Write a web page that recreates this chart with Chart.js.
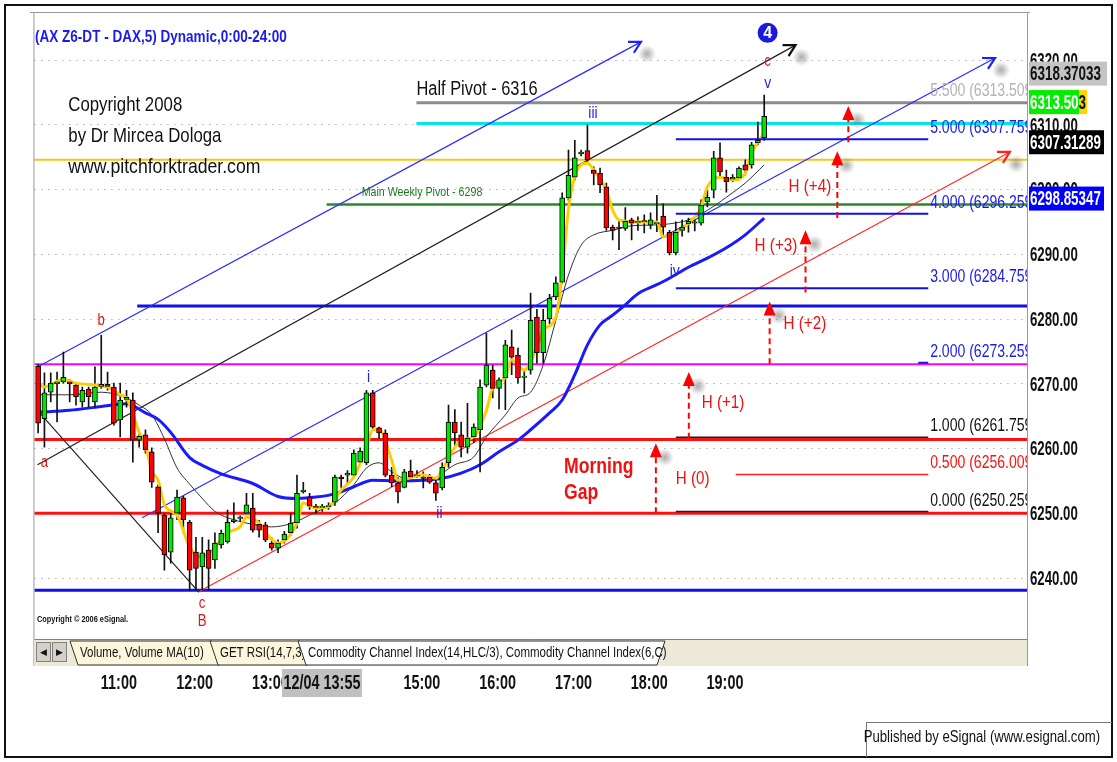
<!DOCTYPE html>
<html>
<head>
<meta charset="utf-8">
<script src="https://cdn.jsdelivr.net/npm/chart.js@4.4.0/dist/chart.umd.min.js"></script>
<style>
  html, body { margin: 0; padding: 0; background: #fff; }
  canvas { display: block; }
</style>
</head>
<body>
<canvas id="dax" width="1117" height="762"></canvas>
<script>
(function () {
  'use strict';

  // ---- data (5 min bars from 10:00) ----
  const START_MIN = 600;
  const BAR_MIN = 5;
  const opens = [
    6272.7,6264.6,6268.7,6270.0,6270.3,6270.3,6269.8,6267.2,6269.2,6267.2,
    6269.6,6269.9,6269.5,6264.4,6267.6,6267.5,6261.3,6262.1,6259.5,6254.1,
    6249.7,6244.0,6250.0,6252.4,6248.6,6244.0,6241.7,6244.3,6242.8,6245.1,
    6245.6,6248.7,6249.2,6250.0,6250.8,6248.3,6248.2,6245.4,6244.6,6245.9,
    6247.0,6248.5,6253.3,6252.5,6251.1,6250.9,6251.0,6251.7,6255.6,6255.9,
    6255.9,6257.9,6257.8,6268.6,6263.2,6262.4,6255.9,6254.7,6254.0,6256.5,
    6255.8,6255.6,6255.6,6254.7,6253.9,6257.8,6264.1,6262.1,6260.2,6261.8,
    6262.9,6269.8,6272.1,6269.3,6270.9,6275.7,6274.4,6271.0,6272.1,6280.3,
    6274.8,6280.0,6283.4,6285.7,6298.7,6301.9,6305.5,6306.0,6303.0,6302.5,
    6300.4,6294.2,6294.2,6294.0,6295.3,6294.9,6295.0,6294.5,6294.7,6295.9,
    6293.4,6290.2,6293.7,6294.7,6294.8,6294.8,6298.1,6299.9,6304.9,6301.9,
    6301.6,6301.8,6303.8,6303.8,6307.2,6308.0
  ];
  const highs = [
    6273.0,6271.7,6271.7,6271.8,6274.9,6270.6,6270.1,6269.5,6269.5,6272.6,
    6277.5,6271.8,6270.1,6270.1,6269.0,6268.6,6262.2,6262.9,6260.1,6254.4,
    6250.0,6250.0,6253.6,6252.6,6248.9,6246.3,6246.3,6245.9,6247.0,6247.4,
    6250.5,6251.6,6249.6,6253.1,6253.1,6248.9,6248.6,6246.2,6245.9,6247.2,
    6250.0,6255.9,6254.8,6253.1,6251.4,6251.4,6251.6,6255.9,6255.9,6256.6,
    6259.8,6260.1,6269.0,6269.0,6263.3,6262.9,6257.1,6255.5,6256.8,6258.2,
    6256.6,6256.4,6256.0,6255.1,6257.8,6266.7,6266.0,6264.1,6267.0,6263.8,
    6270.6,6277.8,6272.9,6270.9,6276.7,6278.3,6275.5,6272.1,6284.0,6281.5,
    6281.5,6283.8,6286.5,6299.5,6306.1,6307.6,6306.1,6310.0,6303.5,6303.3,
    6301.0,6294.5,6295.3,6297.2,6295.6,6295.8,6296.1,6296.4,6299.1,6297.8,
    6293.7,6295.0,6295.3,6295.6,6295.3,6298.4,6299.9,6305.9,6307.2,6303.0,
    6302.3,6303.5,6304.6,6307.3,6310.4,6314.6
  ];
  const lows = [
    6262.4,6260.2,6267.2,6264.1,6270.1,6267.2,6266.7,6266.4,6266.4,6266.4,
    6269.3,6269.0,6263.6,6261.8,6266.4,6257.9,6260.2,6259.3,6254.0,6247.0,
    6241.2,6242.3,6249.0,6247.0,6238.1,6238.2,6238.2,6238.2,6241.5,6244.6,
    6245.4,6248.5,6248.8,6250.0,6247.1,6246.3,6245.6,6244.3,6243.9,6245.4,
    6246.6,6247.7,6253.1,6250.6,6250.0,6250.3,6250.6,6251.2,6254.0,6254.6,
    6255.6,6257.5,6257.5,6262.9,6261.6,6255.6,6254.1,6251.6,6253.9,6255.5,
    6255.5,6253.9,6254.6,6252.0,6253.6,6257.1,6260.5,6258.7,6259.3,6260.9,
    6256.4,6269.5,6267.8,6266.1,6266.0,6271.4,6270.1,6268.6,6271.5,6273.2,
    6273.2,6279.3,6283.0,6285.5,6298.3,6301.5,6305.2,6304.3,6300.7,6299.5,
    6293.7,6292.2,6290.7,6293.7,6292.2,6293.7,6293.3,6293.9,6293.5,6292.7,
    6289.9,6289.9,6292.8,6293.4,6293.6,6294.5,6297.3,6298.7,6301.9,6299.6,
    6301.2,6301.5,6302.2,6303.3,6306.9,6307.6
  ];
  const closes = [
    6263.9,6268.6,6270.1,6270.3,6271.0,6270.0,6268.0,6269.0,6268.0,6269.5,
    6269.9,6269.6,6263.9,6267.5,6267.9,6261.3,6261.9,6259.8,6254.8,6250.0,
    6243.6,6249.3,6252.5,6249.0,6241.2,6241.5,6243.9,6241.5,6245.4,6246.9,
    6248.6,6249.0,6249.4,6251.3,6247.4,6247.4,6245.9,6244.6,6245.4,6246.8,
    6248.5,6253.1,6253.6,6251.1,6250.9,6251.1,6251.2,6255.6,6255.3,6256.2,
    6259.3,6259.6,6268.6,6263.3,6262.4,6255.9,6254.7,6253.3,6256.4,6255.6,
    6255.9,6255.4,6254.8,6253.1,6257.1,6264.1,6262.4,6260.2,6261.6,6263.3,
    6269.5,6272.9,6269.3,6270.6,6276.0,6274.1,6270.9,6271.2,6279.8,6274.8,
    6279.8,6283.2,6285.6,6298.7,6302.2,6304.9,6305.8,6304.6,6302.5,6300.7,
    6294.1,6293.7,6294.0,6295.1,6294.8,6295.1,6295.2,6295.3,6294.9,6294.2,
    6290.2,6293.4,6294.2,6295.1,6295.0,6297.6,6298.8,6304.9,6302.7,6301.2,
    6301.9,6303.3,6303.0,6306.9,6307.6,6311.3
  ];

  // moving averages: [bar index, price]
  const maBlue = [[0,6265.6],[5,6265.9],[10,6266.5],[14,6266.9],[17,6265.5],[19,6264.5],[21,6262.5],
    [24,6258.6],[26,6257.4],[29,6256.1],[34,6254.6],[38,6252.6],[41,6252.3],[44,6252.5],[47,6253.0],
    [50,6254.1],[53,6255.1],
    [57,6255.0],[61,6255.1],[64,6255.4],[67,6256.2],[70,6257.5],[73,6259.5],[76,6261.3],[78,6262.9],
    [81,6265.5],[83,6267.5],[85,6271.4],[87,6276.0],[89,6279.1],[91,6280.6],[93,6282.2],[95,6283.9],
    [98,6285.3],[100,6286.3],[103,6288.0],[106,6289.4],[109,6291.0],[112,6293.0],[115,6295.6]];
  const maBlack = [[0,6268.3],[5,6268.3],[10,6268.7],[14,6267.8],[16,6266.7],[18,6265.2],[20,6261.5],
    [22,6257.0],[24,6254.5],[26,6252.3],[28,6250.3],[31,6249.0],[34,6248.3],[37,6247.9],[40,6248.4],
    [44,6250.2],[47,6251.6],[50,6254.4],[52,6257.0],[54,6257.8],[56,6256.4],[59,6255.1],[62,6255.1],
    [64,6256.2],[66,6257.5],[69,6258.7],[71,6261.8],[74,6265.2],[76,6267.8],[78,6268.7],[80,6272.9],
    [82,6279.8],[84,6286.8],[86,6291.4],[88,6293.0],[91,6293.7],[94,6294.4],[97,6294.5],[100,6294.7],
    [103,6295.3],[106,6296.8],[109,6298.8],[112,6301.0],[115,6303.8]];
  const maYellow = [[0,6270.0],[1,6269.5],[4,6270.7],[6,6270.1],[11,6269.5],[13,6268.3],[14,6267.8],
    [16,6262.5],[17,6260.5],[18,6256.5],[19,6255.1],[20,6251.3],[22,6249.7],[24,6244.8],[26,6243.2],
    [28,6244.8],[30,6247.0],[32,6247.9],[33,6249.4],[35,6248.5],[36,6247.0],[38,6245.4],[41,6248.5],
    [42,6251.6],[44,6250.8],[46,6251.0],[48,6253.6],[50,6255.6],[52,6260.2],[53,6262.9],[54,6262.9],
    [56,6258.2],[57,6255.1],[61,6255.9],[63,6255.4],[64,6256.7],[66,6260.2],[67,6261.3],[69,6261.8],
    [71,6265.9],[72,6269.5],[74,6271.0],[75,6273.7],[77,6272.1],[79,6275.7],[80,6278.3],[82,6280.3],
    [83,6287.0],[84,6297.0],[85,6302.0],[87,6304.1],[88,6303.0],[90,6299.9],[91,6296.8],[92,6295.3],
    [95,6295.0],[98,6295.0],[99,6292.7],[101,6293.3],[103,6294.8],[105,6297.3],[106,6300.4],
    [108,6301.9],[110,6301.5],[112,6302.5],[113,6305.6],[115,6308.7]];

  // trend lines / pitchfork: [minute of day, price]
  const trendBlueUpper = [[599.5, 6272.6], [1077.4, 6322.8]];
  const trendBlackUpper = [[599.5, 6257.5], [1199.8, 6322.3]];
  const trendBlueLower = [[682.4, 6249.3], [1357.8, 6320.3]];
  const trendRed = [[728.2, 6238.0], [1369.6, 6305.8]];
  const trendBlackDown = [[599.5, 6265.9], [727.4, 6237.8]];

  // horizontal levels: [price, start minute]
  const levelBlueHigh = [6282.0, 678.5];
  const levelMagenta = [6273.0, 590];
  const levelRedHigh = [6261.4, 590];
  const levelRedLow = [6250.0, 590];
  const levelBlueLow = [6238.1, 590];
  const levelCyan = [6310.2, 899.6];
  const levelGray = [6313.4, 899.6];
  const levelYellow = [6304.6, 590];
  const levelGreen = [6297.7, 828.5];

  // expansion levels
  const fibRatios = ['5.500', '5.000', '4.000', '3.000', '2.000', '1.000', '0.500', '0.000'];
  const fibPrices = [6313.509, 6307.759, 6296.259, 6284.759, 6273.259, 6261.759, 6256.009, 6250.259];
  const fibStart = [null, 1105, 1105, 1105, 1297, 1105, 1152.4, 1105];
  const FIB_END = 1304.9;
  const FIB_LABEL_AT = 1306.4;

  const X_MIN = 597.1, X_MAX = 1383.1;
  const Y_MIN = 6231.05, Y_MAX = 6326.95;
  const hourTicks = ['11:00', '12:00', '13:00', '15:00', '16:00', '17:00', '18:00', '19:00'];

  // annotations
  const waveText = ['iii', 'i', 'ii', 'iv', 'v'];
  const waveTime = [1039.4, 861.7, 917.8, 1104.2, 1177.7];
  const wavePrice = [6311.8, 6271.0, 6250.0, 6287.3, 6316.4];
  const abcText = ['c', 'b', 'a', 'c', 'B'];
  const abcTime = [1177.7, 650, 605, 729.8, 729.8];
  const abcPrice = [6319.8, 6279.7, 6257.8, 6236.0, 6233.3];
  const hText = ['H (0)', 'H (+1)', 'H (+2)', 'H (+3)', 'H (+4)'];
  const hTime = [1105, 1125.5, 1190.3, 1167.4, 1194.3];
  const hPrice = [6255.3, 6267.0, 6279.2, 6291.3, 6300.5];
  const arrowTime = [1089.2, 1115.3, 1179.3, 1207.7, 1232.9, 1241.6];
  const arrowFrom = [6250.0, 6261.5, 6273.0, 6284.1, 6295.6, 6307.3];
  const arrowTo = [6260.8, 6271.8, 6282.7, 6293.7, 6305.9, 6312.9];

  const priceBoxText = ['6318.37033', '6313.503', '6313.50', '6307.31289', '6298.85347'];
  const priceBoxValue = [6317.9, 6313.5, 6313.5, 6307.3, 6298.6];

  // narrow looking text: Liberation Sans squeezed horizontally
  function txt(ctx, s, x, y, size, color, o) {
    o = o || {};
    ctx.save();
    ctx.fillStyle = color;
    ctx.textBaseline = o.base || 'middle';
    ctx.textAlign = o.align || 'left';
    ctx.font = (o.bold ? 'bold ' : '') + size + 'px "Liberation Sans", Arial, sans-serif';
    ctx.translate(x, y);
    ctx.scale(o.sx || 0.82, 1);
    ctx.fillText(s, 0, 0);
    ctx.restore();
  }

  const tOf = (i) => START_MIN + i * BAR_MIN;
  const toPts = (pairs) => pairs.map((p) => ({ x: p[0], y: p[1] }));
  const maPts = (pairs) => pairs.map((p) => ({ x: tOf(p[0]), y: p[1] }));
  const level = (lv) => [{ x: lv[1], y: lv[0] }, { x: X_MAX + 5, y: lv[0] }];
  const hhmm = (v) => String(Math.floor(v / 60)).padStart(2, '0') + ':' + String(Math.round(v % 60)).padStart(2, '0');

  function lineDs(data, color, width, order, extra) {
    return Object.assign({
      type: 'line', data, borderColor: color, borderWidth: width,
      pointRadius: 0, fill: false, order, tension: 0
    }, extra || {});
  }

  const GREEN = '#00e600', RED = '#ff0000';
  const wickData = opens.map((_, i) => ({ x: tOf(i), y: [lows[i], highs[i]] }));
  const bodyData = opens.map((o, i) => ({ x: tOf(i), y: [o, closes[i]] }));
  const bodyColors = opens.map((o, i) => (closes[i] >= o ? GREEN : RED));

  const fibDatasets = [];
  fibPrices.forEach((p, i) => {
    if (fibStart[i] == null) return;
    const col = i === 6 ? '#ff2020' : (i === 5 || i === 7) ? '#202020' : '#1010ee';
    fibDatasets.push(lineDs([{ x: fibStart[i], y: p }, { x: FIB_END, y: p }], col, i >= 5 ? 1.5 : 2, 5));
  });

  function arrowV(ctx, x1, y1, x2, y2, size, color, width) {
    const a = Math.atan2(y2 - y1, x2 - x1);
    ctx.save();
    ctx.strokeStyle = color;
    ctx.lineWidth = width;
    ctx.beginPath();
    ctx.moveTo(x2 - size * Math.cos(a - 0.5), y2 - size * Math.sin(a - 0.5));
    ctx.lineTo(x2, y2);
    ctx.lineTo(x2 - size * Math.cos(a + 0.5), y2 - size * Math.sin(a + 0.5));
    ctx.stroke();
    ctx.restore();
  }

  function shadow(ctx, x, y) {
    const g = ctx.createRadialGradient(x, y, 1, x, y, 9);
    g.addColorStop(0, 'rgba(120,120,120,0.55)');
    g.addColorStop(1, 'rgba(120,120,120,0)');
    ctx.fillStyle = g;
    ctx.fillRect(x - 10, y - 10, 20, 20);
  }

  const overlay = {
    id: 'overlay',
    afterDatasetsDraw(chart) {
      const ctx = chart.ctx, a = chart.chartArea;
      const X = (v) => chart.scales.x.getPixelForValue(v);
      const Y = (v) => chart.scales.y.getPixelForValue(v);
      ctx.save();
      ctx.beginPath();
      ctx.rect(a.left, a.top, a.right - a.left, a.bottom - a.top);
      ctx.clip();

      // trend line arrow heads
      [[trendBlueUpper, '#2020ff'], [trendBlackUpper, '#111'], [trendBlueLower, '#2020ff'], [trendRed, '#ff2020']]
        .forEach(([tl, col]) => {
          const x1 = X(tl[0][0]), y1 = Y(tl[0][1]), x2 = X(tl[1][0]), y2 = Y(tl[1][1]);
          shadow(ctx, x2 + 6, y2 + 12);
          arrowV(ctx, x1, y1, x2, y2, 13, col, 2.2);
        });

      // dashed target arrows
      arrowTime.forEach((t, i) => {
        const x = X(t), yb = Y(arrowFrom[i]), yt = Y(arrowTo[i]);
        shadow(ctx, x + 9, yt + 14);
        ctx.save();
        ctx.strokeStyle = '#ff0000';
        ctx.lineWidth = 2;
        ctx.setLineDash([6, 4]);
        ctx.beginPath();
        ctx.moveTo(x, yb);
        ctx.lineTo(x, yt + 10);
        ctx.stroke();
        ctx.setLineDash([]);
        ctx.fillStyle = '#ff0000';
        ctx.beginPath();
        ctx.moveTo(x, yt);
        ctx.lineTo(x - 6, yt + 14);
        ctx.lineTo(x + 6, yt + 14);
        ctx.closePath();
        ctx.fill();
        ctx.restore();
      });

      // fib labels
      fibRatios.forEach((r, i) => {
        const col = i === 0 ? '#b4b4b4' : i === 6 ? '#ff1010' : (i === 5 || i === 7) ? '#111' : '#1a1aee';
        txt(ctx, r + ' (' + fibPrices[i].toFixed(3) + ')', X(FIB_LABEL_AT), Y(fibPrices[i]) - 11, 18, col, { sx: 0.78 });
      });

      // wave and abc labels
      waveText.forEach((s, i) => txt(ctx, s, X(waveTime[i]), Y(wavePrice[i]), 17, '#2222ee', { align: 'center' }));
      abcText.forEach((s, i) => txt(ctx, s, X(abcTime[i]), Y(abcPrice[i]), 16, '#ee1111', { align: 'center' }));

      // circled 4
      const cx = X(1177.7), cy = Y(6324.2);
      ctx.fillStyle = '#1a1adf';
      ctx.beginPath();
      ctx.arc(cx, cy, 10, 0, Math.PI * 2);
      ctx.fill();
      txt(ctx, '4', cx, cy + 1, 16, '#fff', { align: 'center', bold: true, sx: 1 });

      // H labels, gap
      hText.forEach((s, i) => txt(ctx, s, X(hTime[i]), Y(hPrice[i]), 19, '#ee1111', { sx: 0.8 }));
      txt(ctx, 'Morning', X(1016.5), Y(6257.1), 22, '#ee1111', { bold: true, sx: 0.8 });
      txt(ctx, 'Gap', X(1016.5), Y(6253.1), 22, '#ee1111', { bold: true, sx: 0.8 });

      // pivot texts and copyright
      txt(ctx, 'Half Pivot - 6316', X(899.6), Y(6315.4), 20, '#111');
      txt(ctx, 'Main Weekly Pivot - 6298', X(856.2), Y(6299.5), 13, '#1f7a1f');
      txt(ctx, 'Copyright 2008', X(623.9), Y(6313.05), 21, '#111', { sx: 0.8 });
      txt(ctx, 'by Dr Mircea Dologa', X(623.9), Y(6308.3), 21, '#111', { sx: 0.8 });
      txt(ctx, 'www.pitchforktrader.com', X(623.9), Y(6303.5), 21, '#111', { sx: 0.84 });
      ctx.restore();

      txt(ctx, '(AX Z6-DT - DAX,5) Dynamic,0:00-24:00', 35, 37, 16.5, '#1a1aee', { bold: true });
      txt(ctx, 'Copyright \u00a9 2006 eSignal.', 37, 620, 9, '#111', { bold: true });
    },
    afterDraw(chart) {
      const ctx = chart.ctx, a = chart.chartArea;
      const sx = chart.scales.x, sy = chart.scales.y;
      const Y = (v) => sy.getPixelForValue(v);
      ctx.save();

      // axis labels from the library's ticks, drawn condensed
      sy.ticks.forEach((t) => {
        txt(ctx, t.value.toFixed(2), a.right + 3, Y(t.value) + 1, 21, '#111', { bold: true, sx: 0.63 });
      });
      sx.ticks.forEach((t) => {
        const lbl = hhmm(t.value);
        if (!hourTicks.includes(lbl)) return;
        txt(ctx, lbl, sx.getPixelForValue(t.value) + 5, 683, 20, '#111', { bold: true, sx: 0.72, align: 'center' });
      });

      // frames
      ctx.strokeStyle = '#111';
      ctx.lineWidth = 2;
      ctx.strokeRect(5, 5, 1107, 752);
      ctx.strokeStyle = '#9a9a9a';
      ctx.lineWidth = 1;
      ctx.beginPath();
      ctx.moveTo(30, 12.5); ctx.lineTo(1030, 12.5);
      ctx.moveTo(a.left - 0.5, 12); ctx.lineTo(a.left - 0.5, 666);
      ctx.moveTo(a.right + 0.5, 12); ctx.lineTo(a.right + 0.5, 666);
      ctx.stroke();
      ctx.strokeStyle = '#777';
      ctx.beginPath();
      ctx.moveTo(866, 722.5); ctx.lineTo(1112, 722.5);
      ctx.moveTo(866.5, 722); ctx.lineTo(866.5, 757);
      ctx.stroke();

      // tab strip
      ctx.fillStyle = '#ece9d8';
      ctx.fillRect(a.left, 639, a.right - a.left, 27);
      ctx.strokeStyle = '#808080';
      ctx.beginPath();
      ctx.moveTo(a.left, 639.5); ctx.lineTo(a.right, 639.5);
      ctx.stroke();
      [[36, '\u25C0'], [52, '\u25B6']].forEach(([bx, g]) => {
        ctx.fillStyle = '#d4d0c8';
        ctx.fillRect(bx, 642, 15, 20);
        ctx.strokeStyle = '#808080';
        ctx.strokeRect(bx + 0.5, 642.5, 14, 19);
        txt(ctx, g, bx + 7.5, 653, 9, '#111', { align: 'center', sx: 1 });
      });
      const tabs = [[70, 212, 'Volume, Volume MA(10)', '#fbf6dc'], [210, 300, 'GET RSI(14,7,3)', '#fbf6dc'],
        [298, 665, 'Commodity Channel Index(14,HLC/3), Commodity Channel Index(6,C)', '#ffffff']];
      tabs.forEach(([l, r, s, bg], i) => {
        ctx.fillStyle = bg;
        ctx.beginPath();
        ctx.moveTo(l, 641); ctx.lineTo(r, 641);
        ctx.lineTo(i === 2 ? r - 8 : r + 8, 665);
        ctx.lineTo(l + 8, 665);
        ctx.closePath();
        ctx.fill();
        ctx.strokeStyle = '#333';
        ctx.stroke();
        txt(ctx, s, l + 10, 653, 14, '#111');
      });

      // price boxes on the axis
      const boxes = [[0, '#c4c4c4', '#111', 78], [1, '#ffd400', '#111', 58], [2, '#00ee00', '#fff', 50],
        [3, '#000', '#fff', 75], [4, '#0000ff', '#fff', 75]];
      boxes.forEach(([i, bg, fg, w]) => {
        const cy = Y(priceBoxValue[i]);
        ctx.fillStyle = bg;
        ctx.fillRect(a.right + 2, cy - 12, w, 24);
        txt(ctx, priceBoxText[i], a.right + 3, cy + 1, 21, fg, { bold: true, sx: 0.64 });
      });

      // date box on the time axis
      ctx.fillStyle = '#c0c0c0';
      ctx.fillRect(282, 669, 80, 28);
      txt(ctx, '12/04 13:55', 322, 683, 20, '#111', { align: 'center', bold: true, sx: 0.72 });

      txt(ctx, 'Published by eSignal (www.esignal.com)', 1100, 738, 16, '#111', { align: 'right' });
      ctx.restore();
    }
  };

  new Chart(document.getElementById('dax'), {
    type: 'bar',
    data: {
      datasets: [
        // levels (back)
        lineDs(level(levelBlueHigh), '#1010e8', 3, 60),
        lineDs(level(levelMagenta), '#ff00ff', 2, 60),
        lineDs(level(levelRedHigh), '#ff1010', 3, 60),
        lineDs(level(levelRedLow), '#ff1010', 3, 60),
        lineDs(level(levelBlueLow), '#1010e8', 3, 60),
        lineDs(level(levelCyan), '#00e5e5', 3, 60),
        lineDs(level(levelGray), '#8c8c8c', 3, 60),
        lineDs(level(levelYellow), '#f5c518', 2, 60),
        lineDs(level(levelGreen), '#2a8a2a', 2.5, 60),
        ...fibDatasets,
        // trend lines
        lineDs(toPts(trendBlueUpper), '#2a2aff', 1.2, 40),
        lineDs(toPts(trendBlackUpper), '#222', 1.2, 40),
        lineDs(toPts(trendBlueLower), '#2a2aff', 1.2, 40),
        lineDs(toPts(trendRed), '#ff2a2a', 1.2, 40),
        lineDs(toPts(trendBlackDown), '#222', 1.2, 40),
        // moving averages
        lineDs(maPts(maBlue), '#1a1aff', 3, 30, { cubicInterpolationMode: 'monotone' }),
        lineDs(maPts(maBlack), '#333', 1, 30, { cubicInterpolationMode: 'monotone' }),
        {
          type: 'bar', data: wickData, backgroundColor: '#111', barThickness: 1,
          grouped: false, order: 20, borderWidth: 0
        },
        lineDs(maPts(maYellow), '#ffcc00', 3, 15, { cubicInterpolationMode: 'monotone' }),
        {
          type: 'bar', data: bodyData, backgroundColor: bodyColors, borderColor: '#000',
          borderWidth: 1, borderSkipped: false, barThickness: 5, grouped: false, order: 10
        }
      ]
    },
    options: {
      responsive: false,
      animation: false,
      events: [],
      layout: { padding: { left: 32, top: 15, right: 0, bottom: 0 } },
      plugins: { legend: { display: false }, tooltip: { enabled: false } },
      scales: {
        x: {
          type: 'linear', min: X_MIN, max: X_MAX, offset: false,
          afterFit: (s) => { s.height = 126; },
          border: { display: false },
          grid: { display: false, drawTicks: false, offset: false },
          ticks: {
            stepSize: 60, includeBounds: false, autoSkip: false, maxRotation: 0,
            padding: 38, color: 'rgba(0,0,0,0)', font: { size: 18 },
            callback: () => ''
          }
        },
        y: {
          type: 'linear', position: 'right', min: Y_MIN, max: Y_MAX,
          afterFit: (s) => { s.width = 90; },
          border: { display: false, dash: [1, 6] },
          grid: { color: '#8a8a8a', drawTicks: false },
          ticks: {
            stepSize: 10, includeBounds: false, padding: 3, color: 'rgba(0,0,0,0)',
            font: { size: 14 }, callback: () => ''
          }
        }
      }
    },
    plugins: [overlay]
  });
})();
</script>
</body>
</html>
